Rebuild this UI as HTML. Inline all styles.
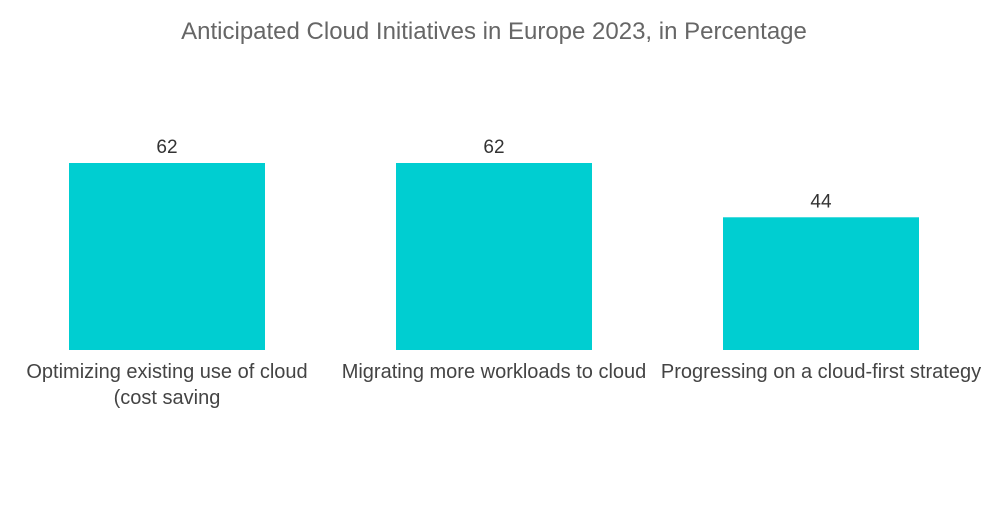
<!DOCTYPE html>
<html>
<head>
<meta charset="utf-8">
<style>
  html,body{margin:0;padding:0;background:#fff;}
  body{width:1000px;height:504px;overflow:hidden;font-family:"Liberation Sans",sans-serif;}
</style>
</head>
<body>
<svg id="chart" width="1000" height="504" xmlns="http://www.w3.org/2000/svg">
  <text x="494" y="39" text-anchor="middle" font-size="24" fill="#666">Anticipated Cloud Initiatives in Europe 2023, in Percentage</text>
  <g id="bars"></g>
</svg>
<script>
const categories = ["Optimizing existing use of cloud|(cost saving", "Migrating more workloads to cloud", "Progressing on a cloud-first strategy"];
const values = [62, 62, 44];
const valueLabels = ["62", "62", "44"];

const baseY = 350, topY = 163, maxVal = 62;
const firstCenter = 167, step = 327, barW = 196;
function yScale(v){ return baseY - (v / maxVal) * (baseY - topY); }
function xCenter(i){ return firstCenter + i * step; }

const NS = "http://www.w3.org/2000/svg";
const g = document.getElementById("bars");
values.forEach((v, i) => {
  const cx = xCenter(i);
  const r = document.createElementNS(NS, "rect");
  r.setAttribute("x", cx - barW / 2);
  r.setAttribute("y", yScale(v));
  r.setAttribute("width", barW);
  r.setAttribute("height", baseY - yScale(v));
  r.setAttribute("fill", "#00CED1");
  
  
  g.appendChild(r);

  const t = document.createElementNS(NS, "text");
  t.setAttribute("x", cx);
  t.setAttribute("y", yScale(v) - 10);
  t.setAttribute("text-anchor", "middle");
  t.setAttribute("font-size", "19");
  t.setAttribute("fill", "#333");
  t.textContent = valueLabels[i];
  
  
  g.appendChild(t);

  categories[i].split("|").forEach((line, j) => {
    const c = document.createElementNS(NS, "text");
    c.setAttribute("x", cx);
    c.setAttribute("y", 378 + j * 26);
    c.setAttribute("text-anchor", "middle");
    c.setAttribute("font-size", "20");
    c.setAttribute("fill", "#444");
    c.textContent = line;
    
    
    g.appendChild(c);
  });
});
</script>
</body>
</html>
